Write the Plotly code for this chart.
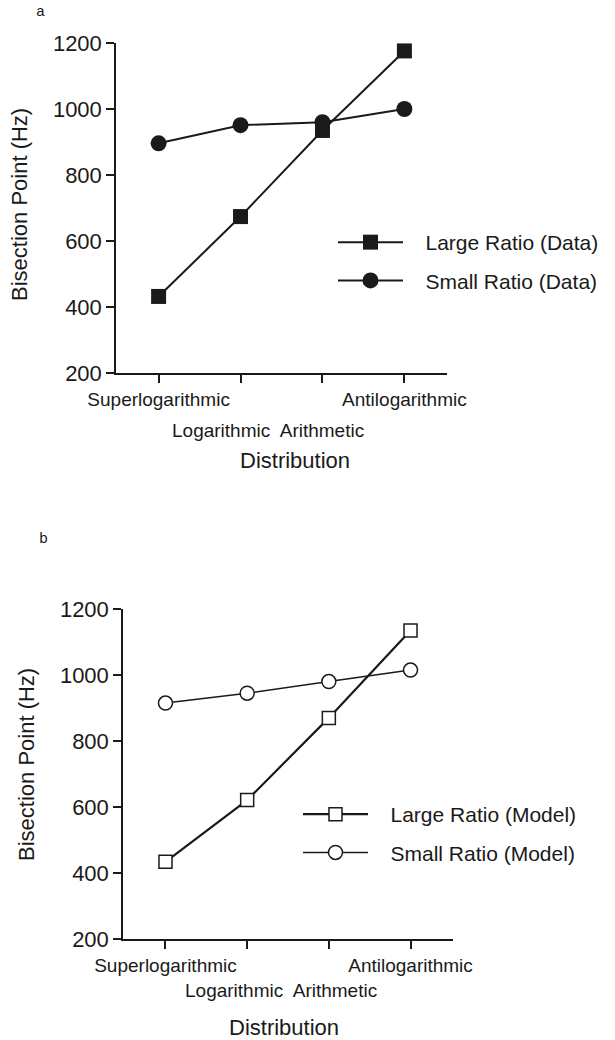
import plotly.graph_objects as go

W, H = 615, 1040

categories = ["Superlogarithmic", "Logarithmic", "Arithmetic", "Antilogarithmic"]
large_data = [432, 674, 935, 1176]
small_data = [896, 951, 960, 1000]
large_model = [434, 621, 870, 1135]
small_model = [915, 945, 980, 1015]
y_ticks = [200, 400, 600, 800, 1000, 1200]

xs = list(range(len(categories)))
row1_text = [c if i in (0, len(categories) - 1) else "" for i, c in enumerate(categories)]
row2_text = categories[1] + "  " + categories[2]


def px(x):
    return x / W


def py(y):
    return 1 - y / H


PAD = "\u00a0\u00a0\u00a0"
FONT = "Liberation Sans, Arial, Helvetica, sans-serif"
fig = go.Figure()

fig.add_trace(go.Scatter(x=xs, y=large_data, name=PAD + "Large Ratio (Data)", mode="lines+markers",
                         line=dict(color="#1a1a1a", width=2),
                         marker=dict(symbol="square", size=15, color="#1a1a1a"),
                         xaxis="x", yaxis="y", legend="legend", legendgroup="a1"))
fig.add_trace(go.Scatter(x=xs, y=small_data, name=PAD + "Small Ratio (Data)", mode="lines+markers",
                         line=dict(color="#1a1a1a", width=2),
                         marker=dict(symbol="circle", size=16, color="#1a1a1a"),
                         xaxis="x", yaxis="y", legend="legend", legendgroup="a2"))
fig.add_trace(go.Scatter(x=xs, y=large_model, name=PAD + "Large Ratio (Model)", mode="lines+markers",
                         line=dict(color="#1a1a1a", width=2.2),
                         marker=dict(symbol="square", size=13, color="white",
                                     line=dict(color="#1a1a1a", width=1.5)),
                         xaxis="x2", yaxis="y2", legend="legend2", legendgroup="b1"))
fig.add_trace(go.Scatter(x=xs, y=small_model, name=PAD + "Small Ratio (Model)", mode="lines+markers",
                         line=dict(color="#1a1a1a", width=1.5),
                         marker=dict(symbol="circle", size=14, color="white",
                                     line=dict(color="#1a1a1a", width=1.5)),
                         xaxis="x2", yaxis="y2", legend="legend2", legendgroup="b2"))

xcommon = dict(range=[-0.52, 3.52], tickmode="array", tickvals=xs, ticktext=row1_text,
               ticks="outside", ticklen=8, tickwidth=1.5, tickcolor="#1a1a1a",
               showline=True, linecolor="#1a1a1a", linewidth=1.5, showgrid=False,
               zeroline=False, automargin=False,
               tickfont=dict(family=FONT, size=19, color="#1a1a1a"))
ycommon = dict(range=[200, 1200], tickmode="array", tickvals=y_ticks,
               ticks="outside", ticklen=8, tickwidth=1.5, tickcolor="#1a1a1a",
               showline=True, linecolor="#1a1a1a", linewidth=1.5, showgrid=False,
               zeroline=False, automargin=False,
               tickfont=dict(family=FONT, size=22, color="#1a1a1a"))

legcommon = dict(font=dict(family=FONT, size=21, color="#1a1a1a"), bgcolor="rgba(0,0,0,0)",
                 itemwidth=65, tracegroupgap=8, xanchor="left", yanchor="top",
                 itemsizing="trace", itemclick=False, itemdoubleclick=False)

fig.update_layout(
    width=W, height=H, margin=dict(l=0, r=0, t=0, b=0, pad=0, autoexpand=False),
    paper_bgcolor="white", plot_bgcolor="white",
    xaxis=dict(domain=[px(116), px(447)], anchor="y", **xcommon),
    yaxis=dict(domain=[py(373), py(43)], anchor="x", **ycommon),
    xaxis2=dict(domain=[px(123), px(453)], anchor="y2", **xcommon),
    yaxis2=dict(domain=[py(939), py(609)], anchor="x2", **ycommon),
    legend=dict(x=px(333), y=py(222), **legcommon),
    legend2=dict(x=px(298), y=py(794), **legcommon),
    showlegend=True,
)

mono = dict(family="Liberation Mono, Courier New, monospace", size=15, color="#1a1a1a")
sans19 = dict(family=FONT, size=19, color="#1a1a1a")
sans22 = dict(family=FONT, size=22, color="#1a1a1a")
ann = [
    dict(text="a", x=px(40), y=py(13), xref="paper", yref="paper", font=mono),
    dict(text="b", x=px(43), y=py(539), xref="paper", yref="paper", font=mono),
    dict(text=row2_text, x=1.33, xref="x", y=py(430), yref="paper", font=sans19),
    dict(text=row2_text, x=1.42, xref="x2", y=py(990), yref="paper", font=sans19),
    dict(text="Distribution", x=px(295), y=py(460), xref="paper", yref="paper", font=sans22),
    dict(text="Distribution", x=px(284), y=py(1027), xref="paper", yref="paper", font=sans22),
    dict(text="Bisection Point (Hz)", x=px(20), y=py(205), xref="paper", yref="paper",
         textangle=-90, font=sans22),
    dict(text="Bisection Point (Hz)", x=px(26), y=py(765), xref="paper", yref="paper",
         textangle=-90, font=sans22),
]
for a in ann:
    a.update(showarrow=False, xanchor="center", yanchor="middle")
fig.update_layout(annotations=ann)

fig.write_html("out.html")
